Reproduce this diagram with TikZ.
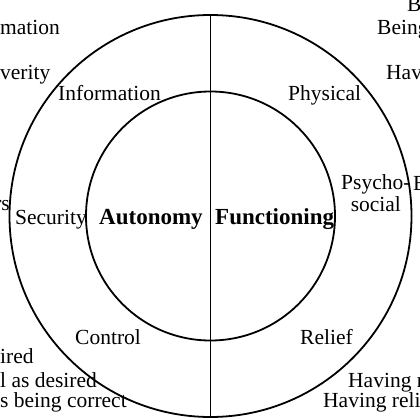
\documentclass[tikz,border=0pt]{standalone}
\usepackage{fontspec}
\setmainfont{Liberation Serif}
\usetikzlibrary{positioning}

\begin{document}
\begin{tikzpicture}[x=1pt, y=-1pt, font=\fontsize{21.5}{22}\selectfont]
  \tikzset{
    ring/.style={draw, circle, line width=1.8pt, inner sep=0pt, outer sep=0pt},
    lbl/.style ={anchor=base west, inner sep=0pt},
    hub/.style ={anchor=base west, inner sep=0pt, font=\fontsize{23}{24}\selectfont\bfseries},
  }
  \useasboundingbox (0,0) rectangle (420,420);
  \clip (0,0) rectangle (420,420);

  \node[ring, minimum size=402pt] (outer) at (210.5,216) {};
  \node[ring, minimum size=249pt] (inner) at (outer.center) {};
  \draw[line width=1.8pt] (outer.north) -- (outer.south);

  \node[hub] (auto) at (99,224) {Autonomy};
  \node[hub] (func) at (215,224) {Functioning};

  \node[lbl] (info) at (58,100) {Information};
  \node[lbl] (secu) at (15,224) {Security};
  \node[lbl] (ctrl) at (75,344) {Control};
  \node[lbl] (phys) at (288,100) {Physical};
  \node[lbl, align=center] (psyc) at (341,211) {Psycho-\\social};
  \node[lbl] (reli) at (300,344) {Relief};

  % cut-off texts outside the ring
  \node[lbl] (l1) at (0,35) {mation};
  \node[lbl] (l2) at (0,79) {verity};
  \node[lbl, anchor=base east] (l3) at (10,210) {rs};
  \node[lbl] (l4) at (0,363) {ired};
  \node[lbl] (l5) at (0,387) {l as desired};
  \node[lbl] (l6) at (0,407) {s being correct};
  \node[lbl] (r1) at (407,12) {Be};
  \node[lbl] (r2) at (377,35) {Being};
  \node[lbl] (r3) at (386,79) {Havi};
  \node[lbl] (r4) at (413,190) {B};
  \node[lbl] (r5) at (348,387) {Having re};
  \node[lbl] (r6) at (323,407) {Having relief};
\end{tikzpicture}
\end{document}
